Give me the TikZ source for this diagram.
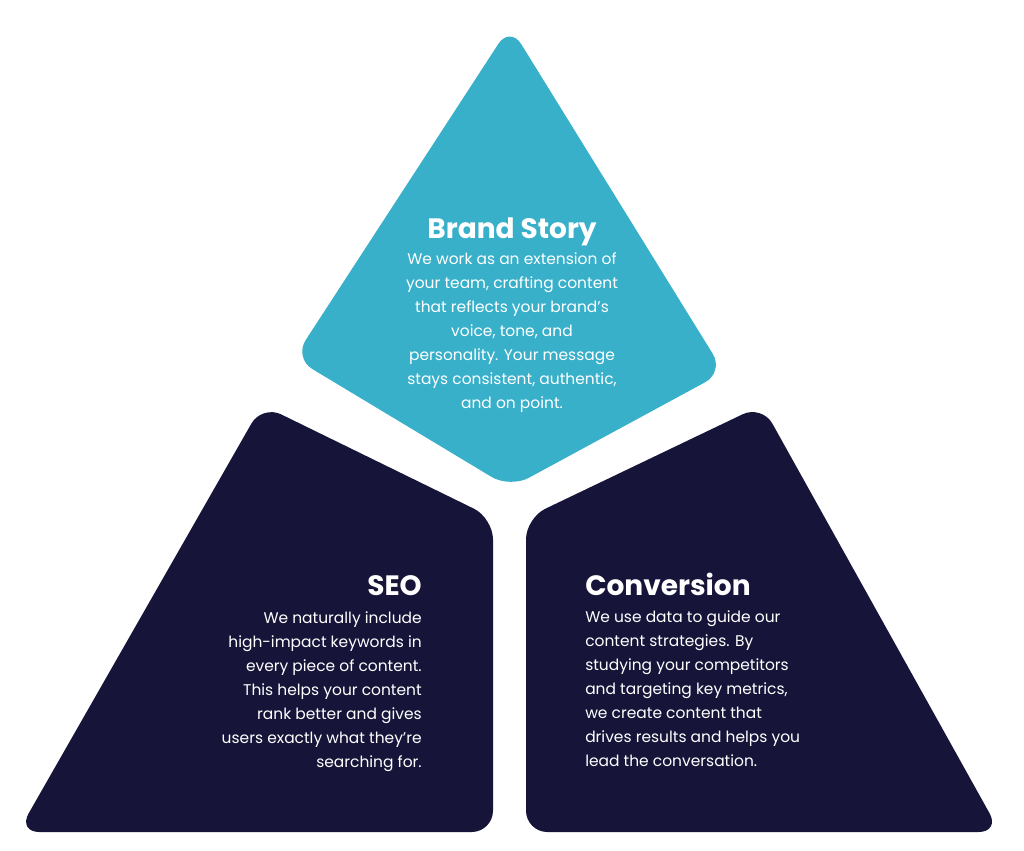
\documentclass[tikz,border=0pt]{standalone}
\usepackage{fontspec}
\setmainfont{Poppins}
\definecolor{teal}{HTML}{38B0C9}
\definecolor{navy}{HTML}{161539}
\begin{document}
\begin{tikzpicture}[x=0.75pt,y=-0.75pt,
  shp/.style={rounded corners=16pt},
  ttl/.style={font=\fontsize{21}{25}\selectfont\bfseries,text=white,inner sep=0pt},
  bdy/.style={font=\fontsize{11.6}{18}\selectfont,text=white,inner sep=0pt}]
\useasboundingbox (0,0) rectangle (1024,850);
\fill[teal,shp] (510,26) -- (724,372) -- (510,488) -- (294,358) -- cycle;
\fill[navy,shp] (262,405) -- (493,518) -- (493,832) -- (18,832) -- cycle;
\fill[navy,shp] (762,405) -- (1000,832) -- (526,832) -- (526,518) -- cycle;
\node[ttl,anchor=base] (bt) at (512,238) {Brand Story};
\node[bdy,anchor=north,align=center] (bb) at (512,252) {We work as an extension of\\your team, crafting content\\that reflects your brand’s\\voice, tone, and\\personality. Your message\\stays consistent, authentic,\\and on point.};
\node[ttl,anchor=base east] (st) at (422,595) {SEO};
\node[bdy,anchor=north east,align=right] (sb) at (422,611) {We naturally include\\high-impact keywords in\\every piece of content.\\This helps your content\\rank better and gives\\users exactly what they’re\\searching for.};
\node[ttl,anchor=base west] (ct) at (585,595) {Conversion};
\node[bdy,anchor=north west,align=left] (cb) at (585,610) {We use data to guide our\\content strategies. By\\studying your competitors\\and targeting key metrics,\\we create content that\\drives results and helps you\\lead the conversation.};
\end{tikzpicture}
\end{document}
